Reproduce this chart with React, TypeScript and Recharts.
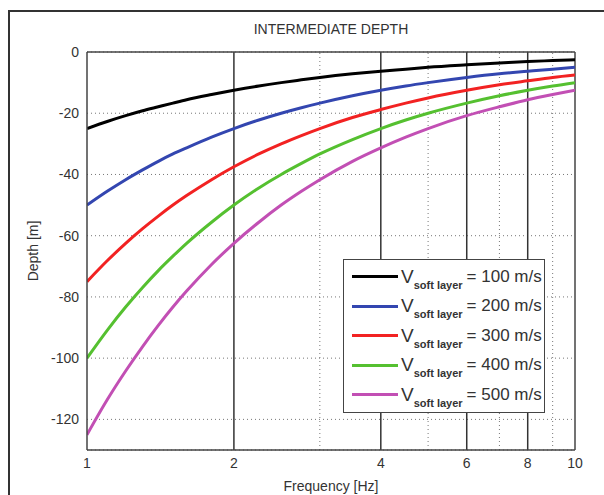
import React from 'react';
import { LineChart, Line, XAxis, YAxis, CartesianGrid, ReferenceLine } from 'recharts';

// frequency samples [Hz]
const freqs = [1, 1.1, 1.2, 1.3, 1.4, 1.5, 1.6, 1.8, 2, 2.25, 2.5, 2.75, 3, 3.5, 4, 4.5, 5, 6, 7, 8, 9, 10];

// depth [m]
const depth100 = [-25, -22.7, -20.8, -19.2, -17.9, -16.7, -15.6, -13.9, -12.5, -11.1, -10, -9.1, -8.3, -7.1, -6.25, -5.6, -5, -4.2, -3.6, -3.1, -2.8, -2.5];
const depth200 = [-50, -45.5, -41.7, -38.5, -35.7, -33.3, -31.3, -27.8, -25, -22.2, -20, -18.2, -16.7, -14.3, -12.5, -11.1, -10, -8.3, -7.1, -6.3, -5.6, -5];
const depth300 = [-75, -68.2, -62.5, -57.7, -53.6, -50, -46.9, -41.7, -37.5, -33.3, -30, -27.3, -25, -21.4, -18.8, -16.7, -15, -12.5, -10.7, -9.4, -8.3, -7.5];
const depth400 = [-100, -90.9, -83.3, -76.9, -71.4, -66.7, -62.5, -55.6, -50, -44.4, -40, -36.4, -33.3, -28.6, -25, -22.2, -20, -16.7, -14.3, -12.5, -11.1, -10];
const depth500 = [-125, -113.6, -104.2, -96.2, -89.3, -83.3, -78.1, -69.4, -62.5, -55.6, -50, -45.5, -41.7, -35.7, -31.3, -27.8, -25, -20.8, -17.9, -15.6, -13.9, -12.5];

const velocities = ['100', '200', '300', '400', '500'];
const colors = ['#000000', '#3346b0', '#f22222', '#55c030', '#c24fb4'];

const xTicks = [1, 2, 4, 6, 8, 10];
const yTicks = [-120, -100, -80, -60, -40, -20, 0];
const solidX = [2, 4, 6, 8];
const dottedX = [3, 5, 7, 9];

const data = freqs.map((f, i) => ({
  f,
  v100: depth100[i],
  v200: depth200[i],
  v300: depth300[i],
  v400: depth400[i],
  v500: depth500[i],
}));

const font = 'Arial, "Liberation Sans", Helvetica, sans-serif';
const axisColor = '#444';

export default function App() {
  return (
    <div style={{ position: 'absolute', left: 0, top: 0, width: 604, height: 495, background: '#fff', overflow: 'hidden', fontFamily: font }}>
      {/* figure frame */}
      <div style={{ position: 'absolute', left: 8, top: 10, width: 620, height: 520, borderLeft: '2px solid #333', borderTop: '2px solid #333' }} />

      <div style={{ position: 'absolute', left: 87, width: 488, top: 21, textAlign: 'center', fontSize: 14, color: '#333' }}>
        INTERMEDIATE DEPTH
      </div>

      <LineChart
        width={604}
        height={495}
        data={data}
        margin={{ top: 52, right: 29, bottom: 0, left: 27 }}
        style={{ position: 'absolute', left: 0, top: 0 }}
      >
        <CartesianGrid vertical={false} stroke="#777" strokeDasharray="1 3" />
        {dottedX.map((x) => (
          <ReferenceLine key={'d' + x} x={x} stroke="#777" strokeDasharray="1 3" />
        ))}
        {solidX.map((x) => (
          <ReferenceLine key={'s' + x} x={x} stroke="#333" strokeWidth={1.5} />
        ))}
        <ReferenceLine y={0} stroke={axisColor} strokeWidth={1.5} />
        <ReferenceLine x={10} stroke={axisColor} strokeWidth={1.5} />
        <XAxis
          dataKey="f"
          type="number"
          scale="log"
          domain={[1, 10]}
          ticks={xTicks}
          allowDataOverflow
          height={45}
          tickLine={false}
          stroke={axisColor}
          strokeWidth={1.5}
          tick={{ fill: '#333', fontSize: 14, fontFamily: font }}
          label={{ value: 'Frequency [Hz]', position: 'insideBottom', offset: 4, fill: '#333', fontSize: 14, fontFamily: font }}
        />
        <YAxis
          type="number"
          domain={[-130, 0]}
          ticks={yTicks}
          width={60}
          tickLine={false}
          stroke={axisColor}
          strokeWidth={1.5}
          tick={{ fill: '#333', fontSize: 14, fontFamily: font }}
          label={{ value: 'Depth [m]', angle: -90, position: 'insideLeft', offset: 6, fill: '#333', fontSize: 14, fontFamily: font, style: { textAnchor: 'middle' } }}
        />
        {velocities.map((v, i) => (
          <Line
            key={v}
            type="monotone"
            dataKey={'v' + v}
            stroke={colors[i]}
            strokeWidth={3}
            dot={false}
            isAnimationActive={false}
          />
        ))}
      </LineChart>

      {/* legend */}
      <div
        style={{
          position: 'absolute',
          left: 343,
          top: 259,
          width: 202,
          height: 154,
          border: '1.5px solid #444',
          background: '#fff',
          boxSizing: 'border-box',
          paddingTop: 2,
        }}
      >
        {velocities.map((v, i) => (
          <div key={v} style={{ display: 'flex', alignItems: 'center', height: 29.5, color: '#333' }}>
            <div style={{ width: 46, height: 3, background: colors[i], marginLeft: 8, marginRight: 3 }} />
            <span style={{ fontSize: 19, lineHeight: '20px' }}>V</span>
            <span style={{ fontSize: 11, fontWeight: 600, position: 'relative', top: 8, marginRight: 4 }}>soft layer</span>
            <span style={{ fontSize: 17 }}>= {v} m/s</span>
          </div>
        ))}
      </div>
    </div>
  );
}
